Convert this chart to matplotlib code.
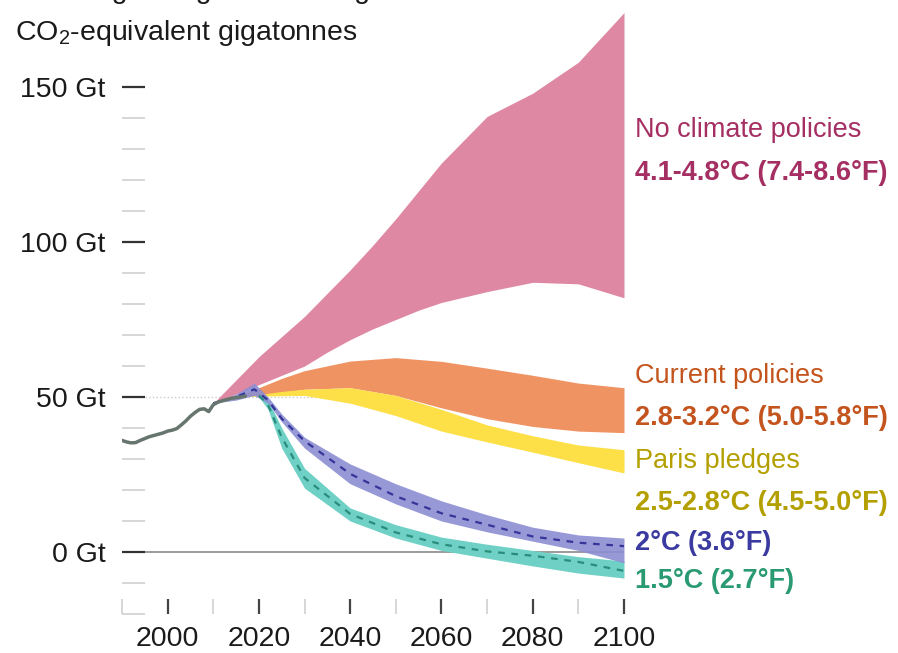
import matplotlib
matplotlib.use("Agg")
import matplotlib.pyplot as plt

plt.rcParams['font.family'] = ['Liberation Sans', 'DejaVu Sans']
plt.rcParams['mathtext.fontset'] = 'custom'
plt.rcParams['mathtext.rm'] = 'Liberation Sans'

# ---- data ----
hist_years = [1990, 1991, 1992, 1993, 1994, 1995, 1996, 1997, 1998, 1999, 2000,
              2001, 2002, 2003, 2004, 2005, 2006, 2007, 2008, 2009, 2010,
              2011, 2012, 2013, 2014, 2015, 2016, 2017]
hist_vals = [36.0, 35.5, 35.2, 35.3, 36.0, 36.6, 37.2, 37.6, 38.0, 38.4, 39.0,
             39.3, 39.8, 41.0, 42.3, 43.8, 45.0, 46.0, 46.2, 45.3, 47.5,
             48.3, 48.8, 49.2, 49.6, 49.8, 50.0, 50.3]

nocp_years = [2010, 2015, 2020, 2025, 2030, 2035, 2040, 2045, 2050, 2055, 2060,
              2070, 2080, 2090, 2100]
nocp_upper = [48, 55.5, 63, 69.5, 76, 83.5, 91, 99, 107.5, 116.5, 125.5,
              140.5, 148, 158, 174]
nocp_lower = [48, 51, 54, 57, 60, 64.5, 68.5, 72, 75, 78, 80.5,
              84, 87, 86.5, 82]

cur_years = [2015, 2020, 2025, 2030, 2040, 2050, 2060, 2070, 2080, 2090, 2100]
cur_upper = [50, 53, 56, 58.5, 61.6, 62.7, 61.5, 59.3, 57, 54.5, 53]
cur_lower = [50, 50.5, 51.5, 52.5, 53, 50.5, 46.5, 43, 40.5, 39, 38.5]

paris_years = [2015, 2020, 2025, 2030, 2040, 2050, 2060, 2070, 2080, 2090, 2100]
paris_upper = [50, 50.8, 51.8, 52.5, 53, 50.5, 46, 41, 37.5, 34.5, 33]
paris_lower = [50, 50.3, 50.4, 50.5, 48, 44, 39, 35.5, 32.2, 28.8, 25.5]

two_years = [2010, 2015, 2019, 2022, 2025, 2030, 2040, 2050, 2060, 2070, 2080, 2090, 2100]
two_upper = [48, 51, 54.5, 50, 44.5, 37, 28.4, 22, 16.5, 12, 8, 5.5, 4.5]
two_lower = [48, 49, 50.5, 48, 42, 33.5, 22, 15.5, 10, 6.5, 3.5, 0.5, -3.5]
two_mean = [48, 50, 52.5, 49, 43, 35.8, 25.2, 18, 12.5, 8.8, 5, 3, 1.9]

one5_years = [2020, 2022, 2025, 2030, 2040, 2050, 2060, 2070, 2080, 2090, 2100]
one5_upper = [51, 49, 40, 27, 14.2, 8.8, 4.8, 2.5, 0.5, -1.5, -2.9]
one5_lower = [50, 46, 33.5, 20.6, 10, 4.5, 0.5, -2, -4.5, -6.8, -8.4]
one5_mean = [50.5, 47.5, 37, 23.9, 12.3, 6.3, 2.5, 0.2, -1.2, -3.2, -6.1]

major_x = [2000, 2020, 2040, 2060, 2080, 2100]
minor_x = [1990, 2010, 2030, 2050, 2070, 2090]
major_y = [0, 50, 100, 150]
major_y_labels = ["0 Gt", "50 Gt", "100 Gt", "150 Gt"]
minor_y = [-20, -10, 10, 20, 30, 40, 60, 70, 80, 90, 110, 120, 130, 140]

labels = [
    ("No climate policies", 137, '#a52e62', 'normal'),
    ("4.1-4.8°C (7.4-8.6°F)", 180, '#a52e62', 'bold'),
    ("Current policies", 383, '#c4541d', 'normal'),
    ("2.8-3.2°C (5.0-5.8°F)", 425, '#c4541d', 'bold'),
    ("Paris pledges", 468, '#b3a000', 'normal'),
    ("2.5-2.8°C (4.5-5.0°F)", 510, '#b3a000', 'bold'),
    ("2°C (3.6°F)", 550, '#3a3aa0', 'bold'),
    ("1.5°C (2.7°F)", 588, '#2a9a72', 'bold'),
]

# ---- figure ----
W, H = 898, 653
fig = plt.figure(figsize=(W / 100, H / 100), dpi=100)
ax = fig.add_axes([122 / W, 39 / H, 502 / W, 614 / H])
ax.set_xlim(1990, 2100)
ax.set_ylim(-20, -20 + 614 / 3.1)
for s in ax.spines.values():
    s.set_visible(False)

# reference lines
ax.plot([1995, 2100], [50, 50], color='#cccccc', lw=1, ls=':', zorder=1)
ax.plot([1995, 2100], [0, 0], color='#8a8a8a', lw=1.2, zorder=1)

# bands
ax.fill_between(nocp_years, nocp_lower, nocp_upper, color='#df88a3', lw=0, zorder=2)
ax.fill_between(cur_years, cur_lower, cur_upper, color='#f09363', lw=0, zorder=3)
ax.fill_between(paris_years, paris_lower, paris_upper, color='#fde047', lw=0, zorder=4)
ax.fill_between(one5_years, one5_lower, one5_upper, color='#6fd0c5', lw=0, zorder=5)
ax.fill_between(two_years, two_lower, two_upper, color='#8c8ed2', lw=0, alpha=0.9, zorder=6)
ax.plot(one5_years, one5_mean, color='#2a8c7c', lw=1.6, ls=(0, (3, 3)), zorder=7)
ax.plot(two_years, two_mean, color='#35359a', lw=1.6, ls=(0, (3, 3)), zorder=7)

# history
ax.plot(hist_years, hist_vals, color='#66756d', lw=2.5, zorder=8, solid_capstyle='round')

# ticks
ax.set_yticks(major_y)
ax.set_yticklabels(major_y_labels)
ax.set_yticks(minor_y, minor=True)
ax.set_xticks(major_x)
ax.set_xticks(minor_x, minor=True)
ax.tick_params(axis='y', which='major', direction='in', length=16.5, width=1.6,
               color='#333333', labelsize=20.5, pad=12, labelcolor='#1a1a1a')
ax.tick_params(axis='y', which='minor', direction='in', length=16.5, width=1.2,
               color='#d0d0d0')
ax.tick_params(axis='x', which='major', direction='in', length=11, width=1.6,
               color='#444444', labelsize=20.5, pad=9, labelcolor='#1a1a1a')
ax.tick_params(axis='x', which='minor', direction='in', length=11, width=1.2,
               color='#d0d0d0')

# titles (first line clipped at top, as in the reference)
fig.text(15 / W, 1 + 2 / H, "Annual global greenhouse gas emissions", fontsize=20.5,
         va='baseline', ha='left', color='#1a1a1a')
fig.text(15 / W, 1 - 40 / H, "CO$_\\mathregular{2}$-equivalent gigatonnes", fontsize=20.5,
         va='baseline', ha='left', color='#1a1a1a')

# right labels
for txt, ybase, col, wt in labels:
    fig.text(635 / W, 1 - ybase / H, txt, fontsize=19.5, color=col, fontweight=wt,
             va='baseline', ha='left')

fig.savefig('out.png', dpi=100)
